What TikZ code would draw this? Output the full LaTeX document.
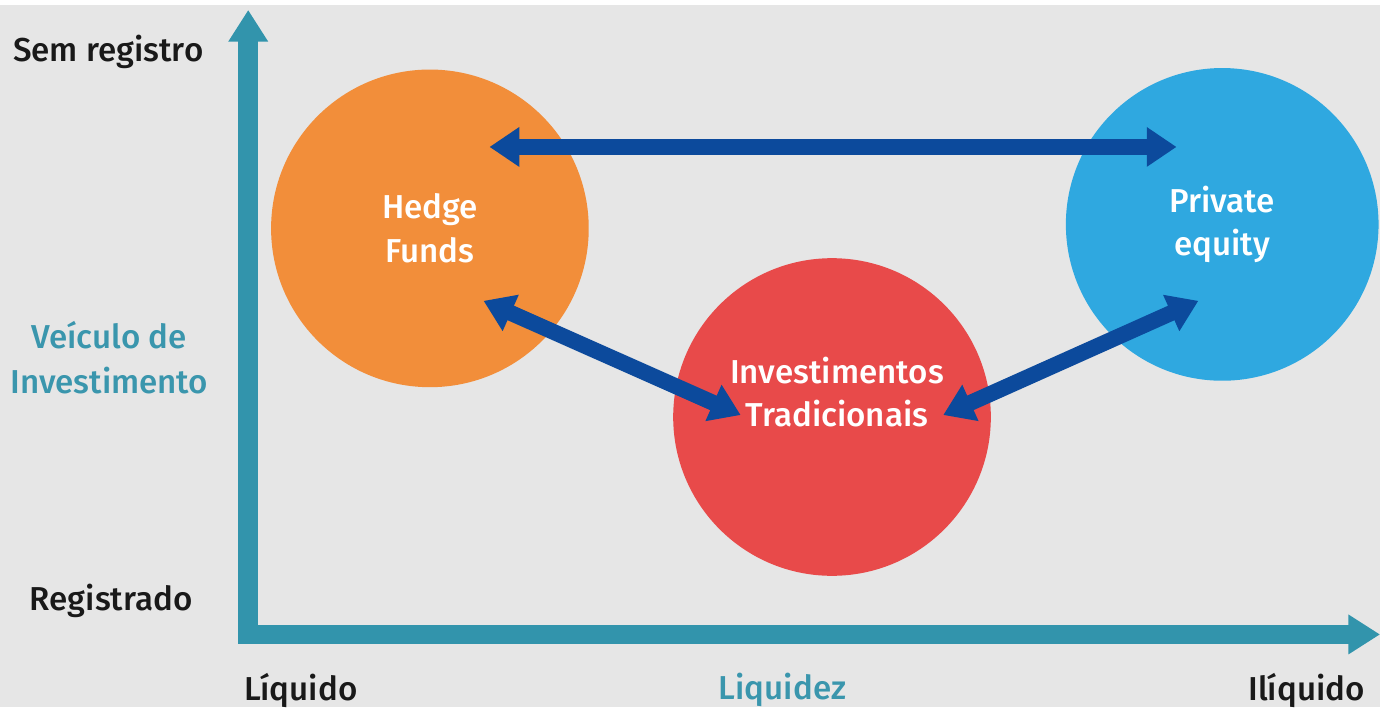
\documentclass[tikz,border=0pt]{standalone}
\usepackage{fontspec}
\setmainfont{Fira Sans}[UprightFont={* Medium}]
\usetikzlibrary{
    arrows.meta,
    positioning
}
\definecolor{bggray}{RGB}{230,230,230}
\definecolor{axisteal}{RGB}{50,148,172}
\definecolor{labelteal}{RGB}{58,150,173}
\definecolor{hforange}{RGB}{242,142,58}
\definecolor{peblue}{RGB}{47,168,224}
\definecolor{itred}{RGB}{232,74,74}
\definecolor{arrblue}{RGB}{12,74,156}
\tikzset{
  bubble/.style = {circle, minimum size=6.4cm, inner sep=0pt,
                   text=white, align=center,
                   font=\fontsize{19}{25}\selectfont},
  axislbl/.style = {align=center, text=black!90,
                    font=\fontsize{19}{26}\selectfont},
  tealbl/.style  = {axislbl, text=labelteal},
  axis/.style    = {line width=0.4cm, axisteal, line join=miter,
                    {Triangle[length=0.64cm,width=0.76cm]}-{Triangle[length=0.64cm,width=0.76cm]}},
  link/.style    = {line width=0.32cm, arrblue,
                    {Triangle[length=0.6cm,width=0.76cm]}-{Triangle[length=0.6cm,width=0.76cm]}}
}

\begin{document}
\begin{tikzpicture}[x=0.02cm, y=-0.02cm]
  % background and frame size
  \fill[bggray] (0,0) rectangle (1390,707);

  % axes
  \coordinate (ytop) at (250,5);
  \coordinate (xend) at (1390,634);
  \draw[axis] (ytop) |- (xend);

  % bubbles
  \node[bubble, fill=hforange] (hf) at (433,225) {Hedge\\Funds};
  \node[bubble, fill=peblue, minimum size=6.3cm] (pe) at (1231,221) {Private\\equity};
  \node[bubble, fill=itred] (it) at (838,415) {};
  \node[bubble, minimum size=0pt] (ittext) at (843,390)
       {Investimentos\\Tradicionais};

  % arrow ends inside the bubbles
  \coordinate (hf-top) at (493,143);
  \coordinate (pe-top) at (1185,143);
  \coordinate (hf-low) at (487,298);
  \coordinate (it-left) at (746,413);
  \coordinate (it-right) at (950,413);
  \coordinate (pe-low) at (1207,298);
  \draw[link] (hf-top) -- (pe-top);
  \draw[link] (hf-low) -- (it-left);
  \draw[link] (it-right) -- (pe-low);

  % axis labels
  \node[axislbl] (semreg) at (109,47) {Sem registro};
  \node[axislbl] (reg) at (112,600) {Registrado};
  \node[tealbl] (veic) at (110,355) {Veículo de\\Investimento};
  \node[axislbl] (liq) at (303,690) {Líquido};
  \node[tealbl] (liqz) at (788,690) {Liquidez};
  \node[axislbl] (iliq) at (1316,690) {Ilíquido};
\end{tikzpicture}
\end{document}
